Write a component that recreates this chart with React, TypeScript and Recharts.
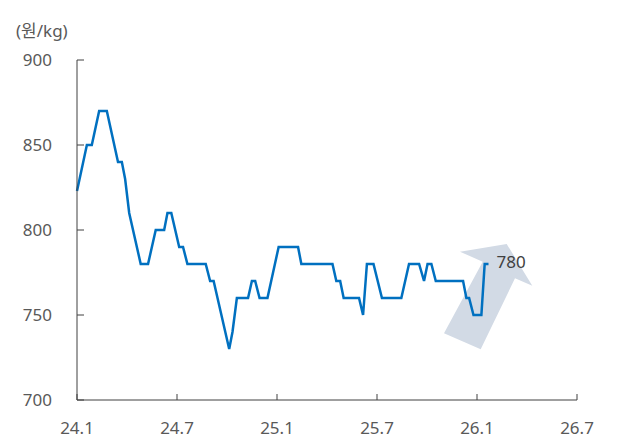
import React from "react";
import { LineChart, Line, XAxis, YAxis, ReferenceDot } from "recharts";

const dates = [
  "2024-01-01", "2024-01-19", "2024-01-28", "2024-02-11", "2024-02-25",
  "2024-03-15", "2024-03-22", "2024-03-28", "2024-04-05", "2024-04-26",
  "2024-05-09", "2024-05-23", "2024-06-08", "2024-06-14", "2024-06-21",
  "2024-07-05", "2024-07-12", "2024-07-20", "2024-08-23", "2024-08-31",
  "2024-09-07", "2024-10-05", "2024-10-11", "2024-10-19", "2024-11-09",
  "2024-11-16", "2024-11-22", "2024-11-30", "2024-12-14", "2025-01-04",
  "2025-02-09", "2025-02-15", "2025-04-11", "2025-04-18", "2025-04-25",
  "2025-05-01", "2025-05-29", "2025-06-06", "2025-06-13", "2025-06-25",
  "2025-07-10", "2025-08-15", "2025-08-29", "2025-09-17", "2025-09-26",
  "2025-10-02", "2025-10-09", "2025-10-17", "2025-12-06", "2025-12-12",
  "2025-12-17", "2025-12-25", "2026-01-09", "2026-01-15", "2026-01-22",
];

const prices = [
  823, 850, 850, 870, 870,
  840, 840, 830, 810, 780,
  780, 800, 800, 810, 810,
  790, 790, 780, 780, 770,
  770, 730, 740, 760, 760,
  770, 770, 760, 760, 790,
  790, 780, 780, 770, 770,
  760, 760, 750, 780, 780,
  760, 760, 780, 780, 770,
  780, 780, 770, 770, 760,
  760, 750, 750, 780, 780,
];

const xTickLabels = ["24.1", "24.7", "25.1", "25.7", "26.1", "26.7"];
const yTicks = [700, 750, 800, 850, 900];
const unitLabel = "(원/kg)";
const arrowAnchor = { label: "26.1", value: 750 };

const monthOffset = (d: string) => {
  const [y, m, day] = d.split("-").map(Number);
  return (y - 2024) * 12 + (m - 1) + (day - 1) / 30.4;
};
const tickValue = (t: string) => {
  const [yy, mm] = t.split(".").map(Number);
  return (yy - 24) * 12 + (mm - 1);
};

const data = dates.map((d, i) => ({ t: monthOffset(d), price: prices[i] }));
const xTicks = xTickLabels.map(tickValue);
const labelFor = (v: number) => xTickLabels[xTicks.indexOf(v)] ?? "";

const FONT = "'Noto Sans', 'Noto Sans CJK KR', sans-serif";
const TEXT_COLOR = "#595959";

const Arrow = (props: any) => {
  const { cx, cy } = props;
  if (cx == null || cy == null) return null;
  const pts = [
    [-33, 18.3],
    [3.7, 34.3],
    [38, -36.7],
    [55.3, -29.3],
    [29.7, -71],
    [-17, -63.3],
    [5.7, -53.3],
  ]
    .map(([dx, dy]) => `${cx + dx},${cy + dy}`)
    .join(" ");
  return <polygon points={pts} fill="#d2dae5" stroke="none" />;
};

const LastLabel = (props: any) => {
  const { x, y, index, value } = props;
  if (index !== data.length - 1) return null;
  return (
    <text
      x={x + 8}
      y={y - 3}
      fill="#404040"
      fontSize={17}
      fontFamily={FONT}
      dominantBaseline="central"
    >
      {value}
    </text>
  );
};

export default function App() {
  return (
    <div style={{ position: "relative", width: 614, height: 434, fontFamily: FONT }}>
      <div
        style={{
          position: "absolute",
          left: 8,
          top: 12,
          fontSize: 17,
          color: TEXT_COLOR,
          fontFamily: FONT,
          lineHeight: "22px",
        }}
      >
        {unitLabel}
      </div>
      <LineChart
        width={614}
        height={434}
        data={data}
        margin={{ top: 52, right: 45, bottom: 12, left: 0 }}
      >
        <XAxis
          dataKey="t"
          type="number"
          domain={[xTicks[0], xTicks[xTicks.length - 1]]}
          ticks={xTicks}
          tickFormatter={labelFor}
          height={30}
          tickSize={-6}
          tickMargin={28}
          axisLine={{ stroke: "#404040", strokeWidth: 1 }}
          tickLine={{ stroke: "#404040", strokeWidth: 1 }}
          tick={{ fill: TEXT_COLOR, fontSize: 17, fontFamily: FONT }}
          interval={0}
        />
        <YAxis
          type="number"
          domain={[yTicks[0], yTicks[yTicks.length - 1]]}
          ticks={yTicks}
          width={69}
          tickSize={-7}
          tickMargin={32}
          axisLine={{ stroke: "#404040", strokeWidth: 1 }}
          tickLine={{ stroke: "#404040", strokeWidth: 1 }}
          tick={{ fill: TEXT_COLOR, fontSize: 17, fontFamily: FONT }}
          interval={0}
        />
        <ReferenceDot
          x={tickValue(arrowAnchor.label)}
          y={arrowAnchor.value}
          r={0}
          shape={Arrow}
          ifOverflow="visible"
          zIndex={50}
        />
        <Line
          type="linear"
          dataKey="price"
          stroke="#0070C0"
          strokeWidth={2.5}
          dot={false}
          isAnimationActive={false}
          label={LastLabel}
        />
      </LineChart>
    </div>
  );
}
